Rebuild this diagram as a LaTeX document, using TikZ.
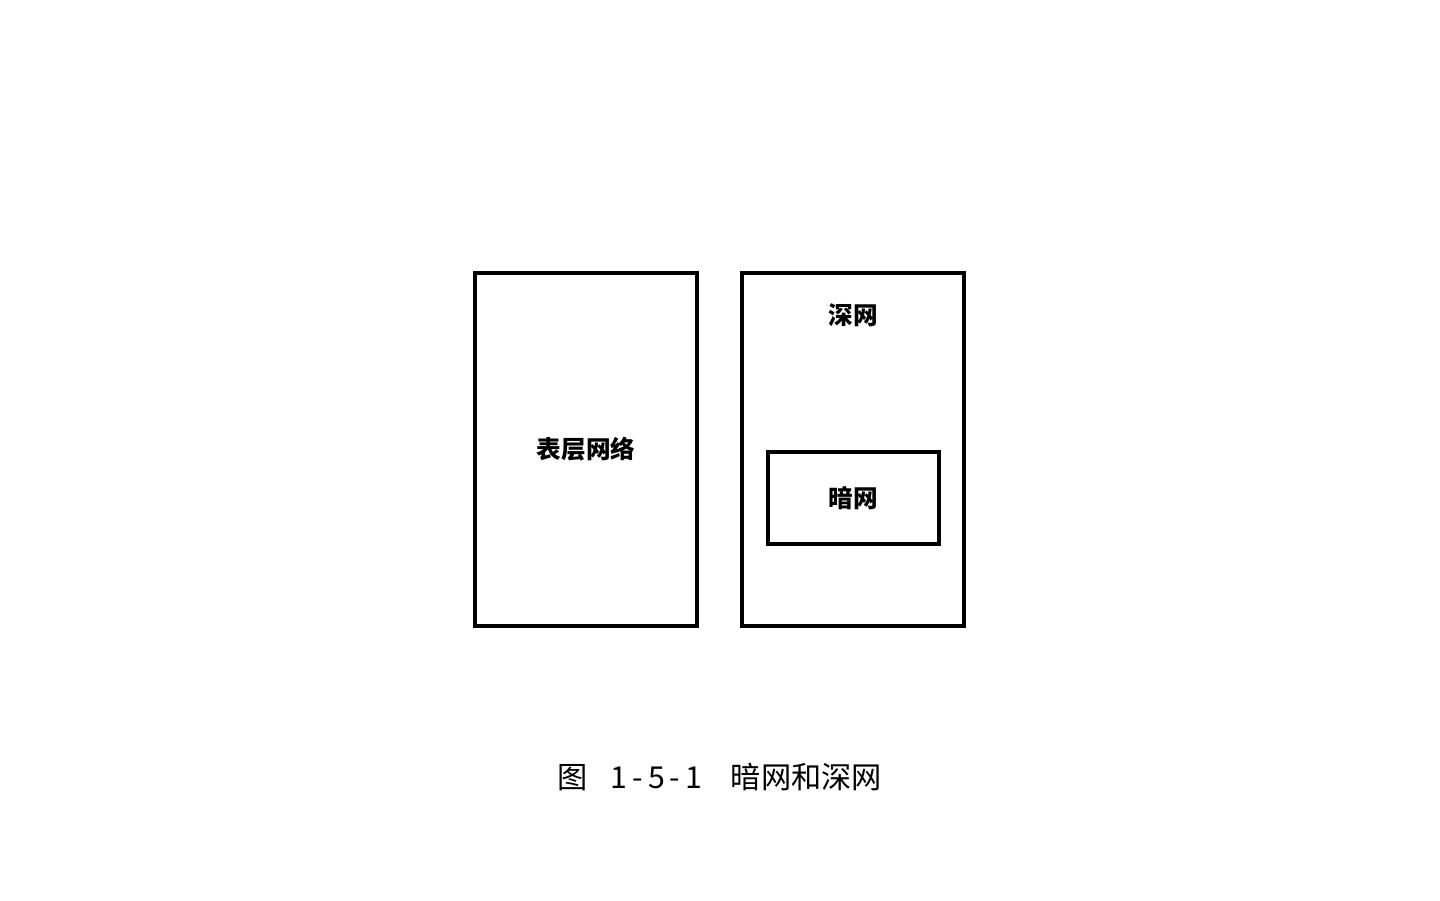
\documentclass[tikz,border=0pt]{standalone}
\usepackage{fontspec}
\newfontfamily\cjk{Noto Sans CJK SC}
\usepackage{tikz}
\usetikzlibrary{positioning}

\begin{document}
\begin{tikzpicture}[line width=0.9pt,
    netbox/.style={draw, inner sep=0pt},
    netlabel/.style={font=\cjk\bfseries\fontsize{7}{8}\selectfont}]
    \useasboundingbox (0,0) rectangle (14.4,9);
    % surface web and deep web
    \node[netbox, minimum width=2.22cm, minimum height=3.53cm] (surface) at (5.86,4.505) {};
    \node[netbox, minimum width=2.22cm, minimum height=3.53cm] (deep) at (8.53,4.505) {};
    \node[netlabel] (surfacelabel) at (surface.center) {表层网络};
    \node[netlabel] (deeplabel) at (8.53,5.85) {深网};
    % dark web inside the deep web
    \node[netbox, minimum width=1.71cm, minimum height=0.92cm] (dark) at (8.535,4.02) {};
    \node[netlabel] (darklabel) at (dark.center) {暗网};

    \node[font=\cjk\fontsize{8.6}{10}\selectfont] (caption) at (7.2,1.23)
        {图\hspace{0.75em}1\,-\,5\,-\,1\hspace{0.95em}暗网和深网};
\end{tikzpicture}
\end{document}
